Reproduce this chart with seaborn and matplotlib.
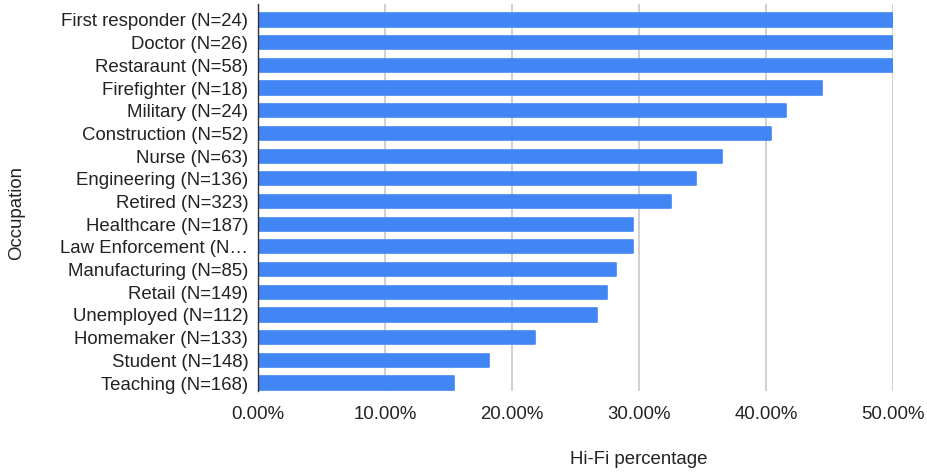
import matplotlib
matplotlib.use("Agg")
import matplotlib.pyplot as plt
import seaborn as sns
import pandas as pd
from matplotlib.ticker import FuncFormatter

occupations = [
    "First responder (N=24)", "Doctor (N=26)", "Restaraunt (N=58)",
    "Firefighter (N=18)", "Military (N=24)", "Construction (N=52)",
    "Nurse (N=63)", "Engineering (N=136)", "Retired (N=323)",
    "Healthcare (N=187)", "Law Enforcement (N\u2026", "Manufacturing (N=85)",
    "Retail (N=149)", "Unemployed (N=112)", "Homemaker (N=133)",
    "Student (N=148)", "Teaching (N=168)",
]
hifi_pct = [50.0, 50.0, 50.0, 44.4, 41.6, 40.4, 36.5, 34.5, 32.5,
            29.5, 29.5, 28.2, 27.5, 26.7, 21.8, 18.2, 15.4]
x_ticks = [0, 10, 20, 30, 40, 50]

df = pd.DataFrame({"Occupation": occupations, "Hi-Fi percentage": hifi_pct})

sns.set_theme(style="white")
plt.rcParams["font.family"] = ["Liberation Sans", "DejaVu Sans"]

fig = plt.figure(figsize=(9.28, 4.75), dpi=100)
ax = fig.add_axes([258 / 928, 1 - 391 / 475, (893 - 258) / 928, (391 - 4) / 475])

sns.barplot(data=df, x="Hi-Fi percentage", y="Occupation", color="#4285F4",
            saturation=1, width=0.58, ax=ax, zorder=3)
for p in ax.patches:
    p.set_edgecolor("#4285F4")
    p.set_linewidth(1.2)
    p.set_joinstyle("round")

ax.set_xlim(0, 50)
ax.set_ylim(16.35, -0.705)
ax.set_xticks(x_ticks)
ax.xaxis.set_major_formatter(FuncFormatter(lambda v, p: f"{v:.2f}%"))
ax.grid(axis="x", color="#d0d0d0", linewidth=1.4, zorder=0)
ax.grid(axis="y", visible=False)
for s in ["top", "right", "bottom"]:
    ax.spines[s].set_visible(False)
ax.spines["left"].set_color("#333333")
ax.spines["left"].set_linewidth(1.0)
ax.spines["left"].set_zorder(5)

ax.tick_params(axis="x", length=0, pad=11, labelsize=13.4, labelcolor="#222222")
ax.tick_params(axis="y", length=0, pad=7, labelsize=13.4, labelcolor="#222222")

ax.set_xlabel("Hi-Fi percentage", fontsize=13.4, color="#222222")
ax.set_ylabel("Occupation", fontsize=13.4, color="#222222")
ax.xaxis.set_label_coords((639 - 258) / 635, (391 - 460) / 387)
ax.yaxis.set_label_coords((17 - 258) / 635, (391 - 213) / 387)
ax.xaxis.label.set_va("center")
ax.yaxis.label.set_va("center")

fig.savefig("out.png", dpi=100, facecolor="white")
